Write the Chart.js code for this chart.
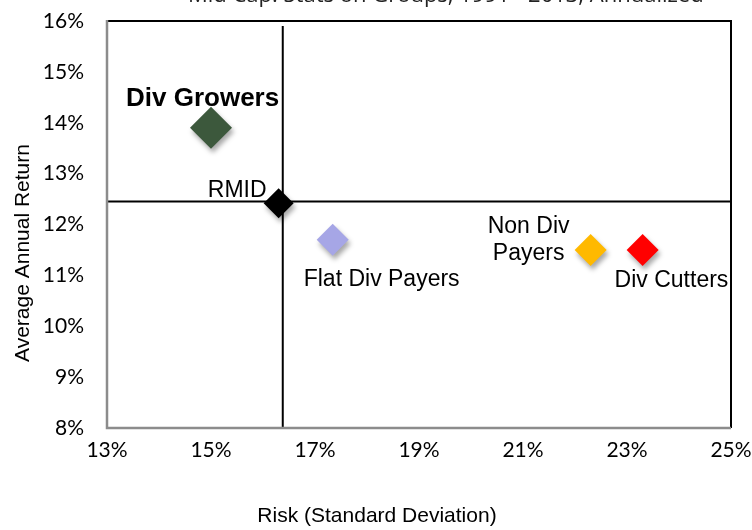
<!DOCTYPE html>
<html>
<head>
<meta charset="utf-8">
<script src="https://cdn.jsdelivr.net/npm/chart.js@4"></script>
<style>
  html, body { margin: 0; padding: 0; background: #fff; }
  #wrap { width: 752px; height: 530px; position: relative; }
</style>
</head>
<body>
<div id="wrap"><canvas id="riskChart" width="752" height="530"></canvas></div>
<script>
// ── Risk / return scatter for the mid cap dividend groups ────────────────
const chartTitle = 'Mid Cap: Stats on Groups, 1991 - 2013, Annualized';
const groups     = ['Div Growers', 'RMID', 'Flat Div Payers', 'Non Div Payers', 'Div Cutters'];
const riskPct    = [15.0, 16.3, 17.34, 22.3, 23.3];   // standard deviation, %
const returnPct  = [13.9, 12.42, 11.7, 11.5, 11.5];   // average annual return, %

// quadrant lines through the benchmark
const benchRisk   = 16.38;
const benchReturn = 12.45;

const xTicks = [13, 15, 17, 19, 21, 23, 25];
const yTicks = [8, 9, 10, 11, 12, 13, 14, 15, 16];

// styling, kept apart from the values
const LABEL_FONT  = '23px "Liberation Sans", Arial, sans-serif';
const pointColors = ['#3c583c', '#000000', '#a6a6e6', '#ffb900', '#ff0000'];
const pointRadii  = [21, 15, 16, 16, 16];
const labelStyle = [
  { dx: -85, dy: -22, align: 'left',   font: 'bold 26px "Liberation Sans", Arial, sans-serif' },
  { dx: -12, dy: -6,  align: 'right',  font: LABEL_FONT },
  { dx: -29, dy: 46,  align: 'left',   font: LABEL_FONT },
  { dx: -62, dy: -17, align: 'center', font: LABEL_FONT, lines: ['Non Div', 'Payers'], lh: 27 },
  { dx: -28, dy: 37,  align: 'left',   font: LABEL_FONT },
];

const AXIS_FONT = '21px "Liberation Sans", Arial, sans-serif';

// drop shadow under the diamonds only
const shadowPlugin = {
  id: 'shadow',
  beforeDatasetDraw(chart, args) {
    if (args.meta.type !== 'scatter' || args.index !== 0) return;
    const c = chart.ctx;
    c.save();
    c.shadowColor = 'rgba(0,0,0,0.35)';
    c.shadowBlur = 5;
    c.shadowOffsetX = 2;
    c.shadowOffsetY = 4;
  },
  afterDatasetDraw(chart, args) {
    if (args.meta.type !== 'scatter' || args.index !== 0) return;
    chart.ctx.restore();
  }
};

// plot frame, point labels, axis titles and the (clipped) title
const decorPlugin = {
  id: 'decor',
  afterDatasetsDraw(chart) {
    const c = chart.ctx;
    const { left, right, top, bottom } = chart.chartArea;
    const xs = chart.scales.x, ys = chart.scales.y;
    c.save();

    // frame: black top/right, grey axes left/bottom
    c.lineWidth = 2;
    c.strokeStyle = '#000';
    c.beginPath();
    c.moveTo(left, top); c.lineTo(right, top); c.lineTo(right, bottom);
    c.stroke();
    c.strokeStyle = '#8c8c8c';
    c.lineWidth = 2.5;
    c.beginPath();
    c.moveTo(left, top - 1); c.lineTo(left, bottom); c.lineTo(right, bottom);
    c.stroke();

    // point labels
    c.fillStyle = '#000';
    c.textBaseline = 'alphabetic';
    groups.forEach((name, i) => {
      const st = labelStyle[i];
      const px = xs.getPixelForValue(riskPct[i]) + st.dx;
      const py = ys.getPixelForValue(returnPct[i]) + st.dy;
      c.font = st.font;
      c.textAlign = st.align;
      const lines = st.lines || [name];
      lines.forEach((ln, k) => c.fillText(ln, px, py + k * (st.lh || 0)));
    });

    // axis titles
    c.font = AXIS_FONT;
    c.textAlign = 'center';
    c.textBaseline = 'middle';
    c.fillText('Risk (Standard Deviation)', 377, 516);
    c.save();
    c.translate(23, 253);
    c.rotate(-Math.PI / 2);
    c.fillText('Average Annual Return', 0, 0);
    c.restore();

    // title runs off the top of the picture
    c.font = '22px "Open Sans", Lato, sans-serif';
    c.textAlign = 'left';
    c.textBaseline = 'alphabetic';
    c.fillStyle = '#222';
    c.fillText(chartTitle, 188, 2);

    c.restore();
  }
};

const pct = v => v + '%';
// keep tick-label overflow from shrinking the plot area
const noOverflow = s => { s.paddingLeft = s.paddingRight = s.paddingTop = s.paddingBottom = 0; };

new Chart(document.getElementById('riskChart'), {
  type: 'scatter',
  data: {
    datasets: [
      {
        label: 'Groups',
        data: groups.map((g, i) => ({ x: riskPct[i], y: returnPct[i] })),
        pointStyle: 'rectRot',
        pointRadius: pointRadii,
        pointHoverRadius: pointRadii,
        backgroundColor: pointColors,
        borderColor: pointColors,
        borderWidth: 0,
        order: 1,
      },
      {
        label: 'bench-v',
        type: 'line',
        data: [{ x: benchRisk, y: yTicks[0] }, { x: benchRisk, y: 15.9 }],
        borderColor: '#000', borderWidth: 2, pointRadius: 0, fill: false,
        order: 2,
      },
      {
        label: 'bench-h',
        type: 'line',
        data: [{ x: xTicks[0], y: benchReturn }, { x: xTicks[xTicks.length - 1], y: benchReturn }],
        borderColor: '#000', borderWidth: 2, pointRadius: 0, fill: false,
        order: 2,
      },
    ]
  },
  options: {
    responsive: false,
    animation: false,
    events: [],
    layout: { padding: { top: 20, right: 21, left: 0, bottom: 0 } },
    plugins: {
      legend: { display: false },
      tooltip: { enabled: false },
    },
    scales: {
      x: {
        type: 'linear',
        min: xTicks[0], max: xTicks[xTicks.length - 1],
        afterBuildTicks: s => { s.ticks = xTicks.map(v => ({ value: v })); },
        afterFit: s => { s.height = 102; noOverflow(s); },
        grid: { display: false, drawTicks: false },
        border: { display: false },
        ticks: {
          padding: 10,
          color: '#000',
          font: { family: 'Lato', size: 21 },
          callback: pct,
          maxRotation: 0,
        },
      },
      y: {
        type: 'linear',
        min: yTicks[0], max: yTicks[yTicks.length - 1],
        afterBuildTicks: s => { s.ticks = yTicks.map(v => ({ value: v })); },
        afterFit: s => { s.width = 107; noOverflow(s); },
        grid: { display: false, drawTicks: false },
        border: { display: false },
        ticks: {
          padding: 23,
          color: '#000',
          font: { family: 'Lato', size: 21 },
          callback: pct,
        },
      },
    },
  },
  plugins: [shadowPlugin, decorPlugin],
});
</script>
</body>
</html>
